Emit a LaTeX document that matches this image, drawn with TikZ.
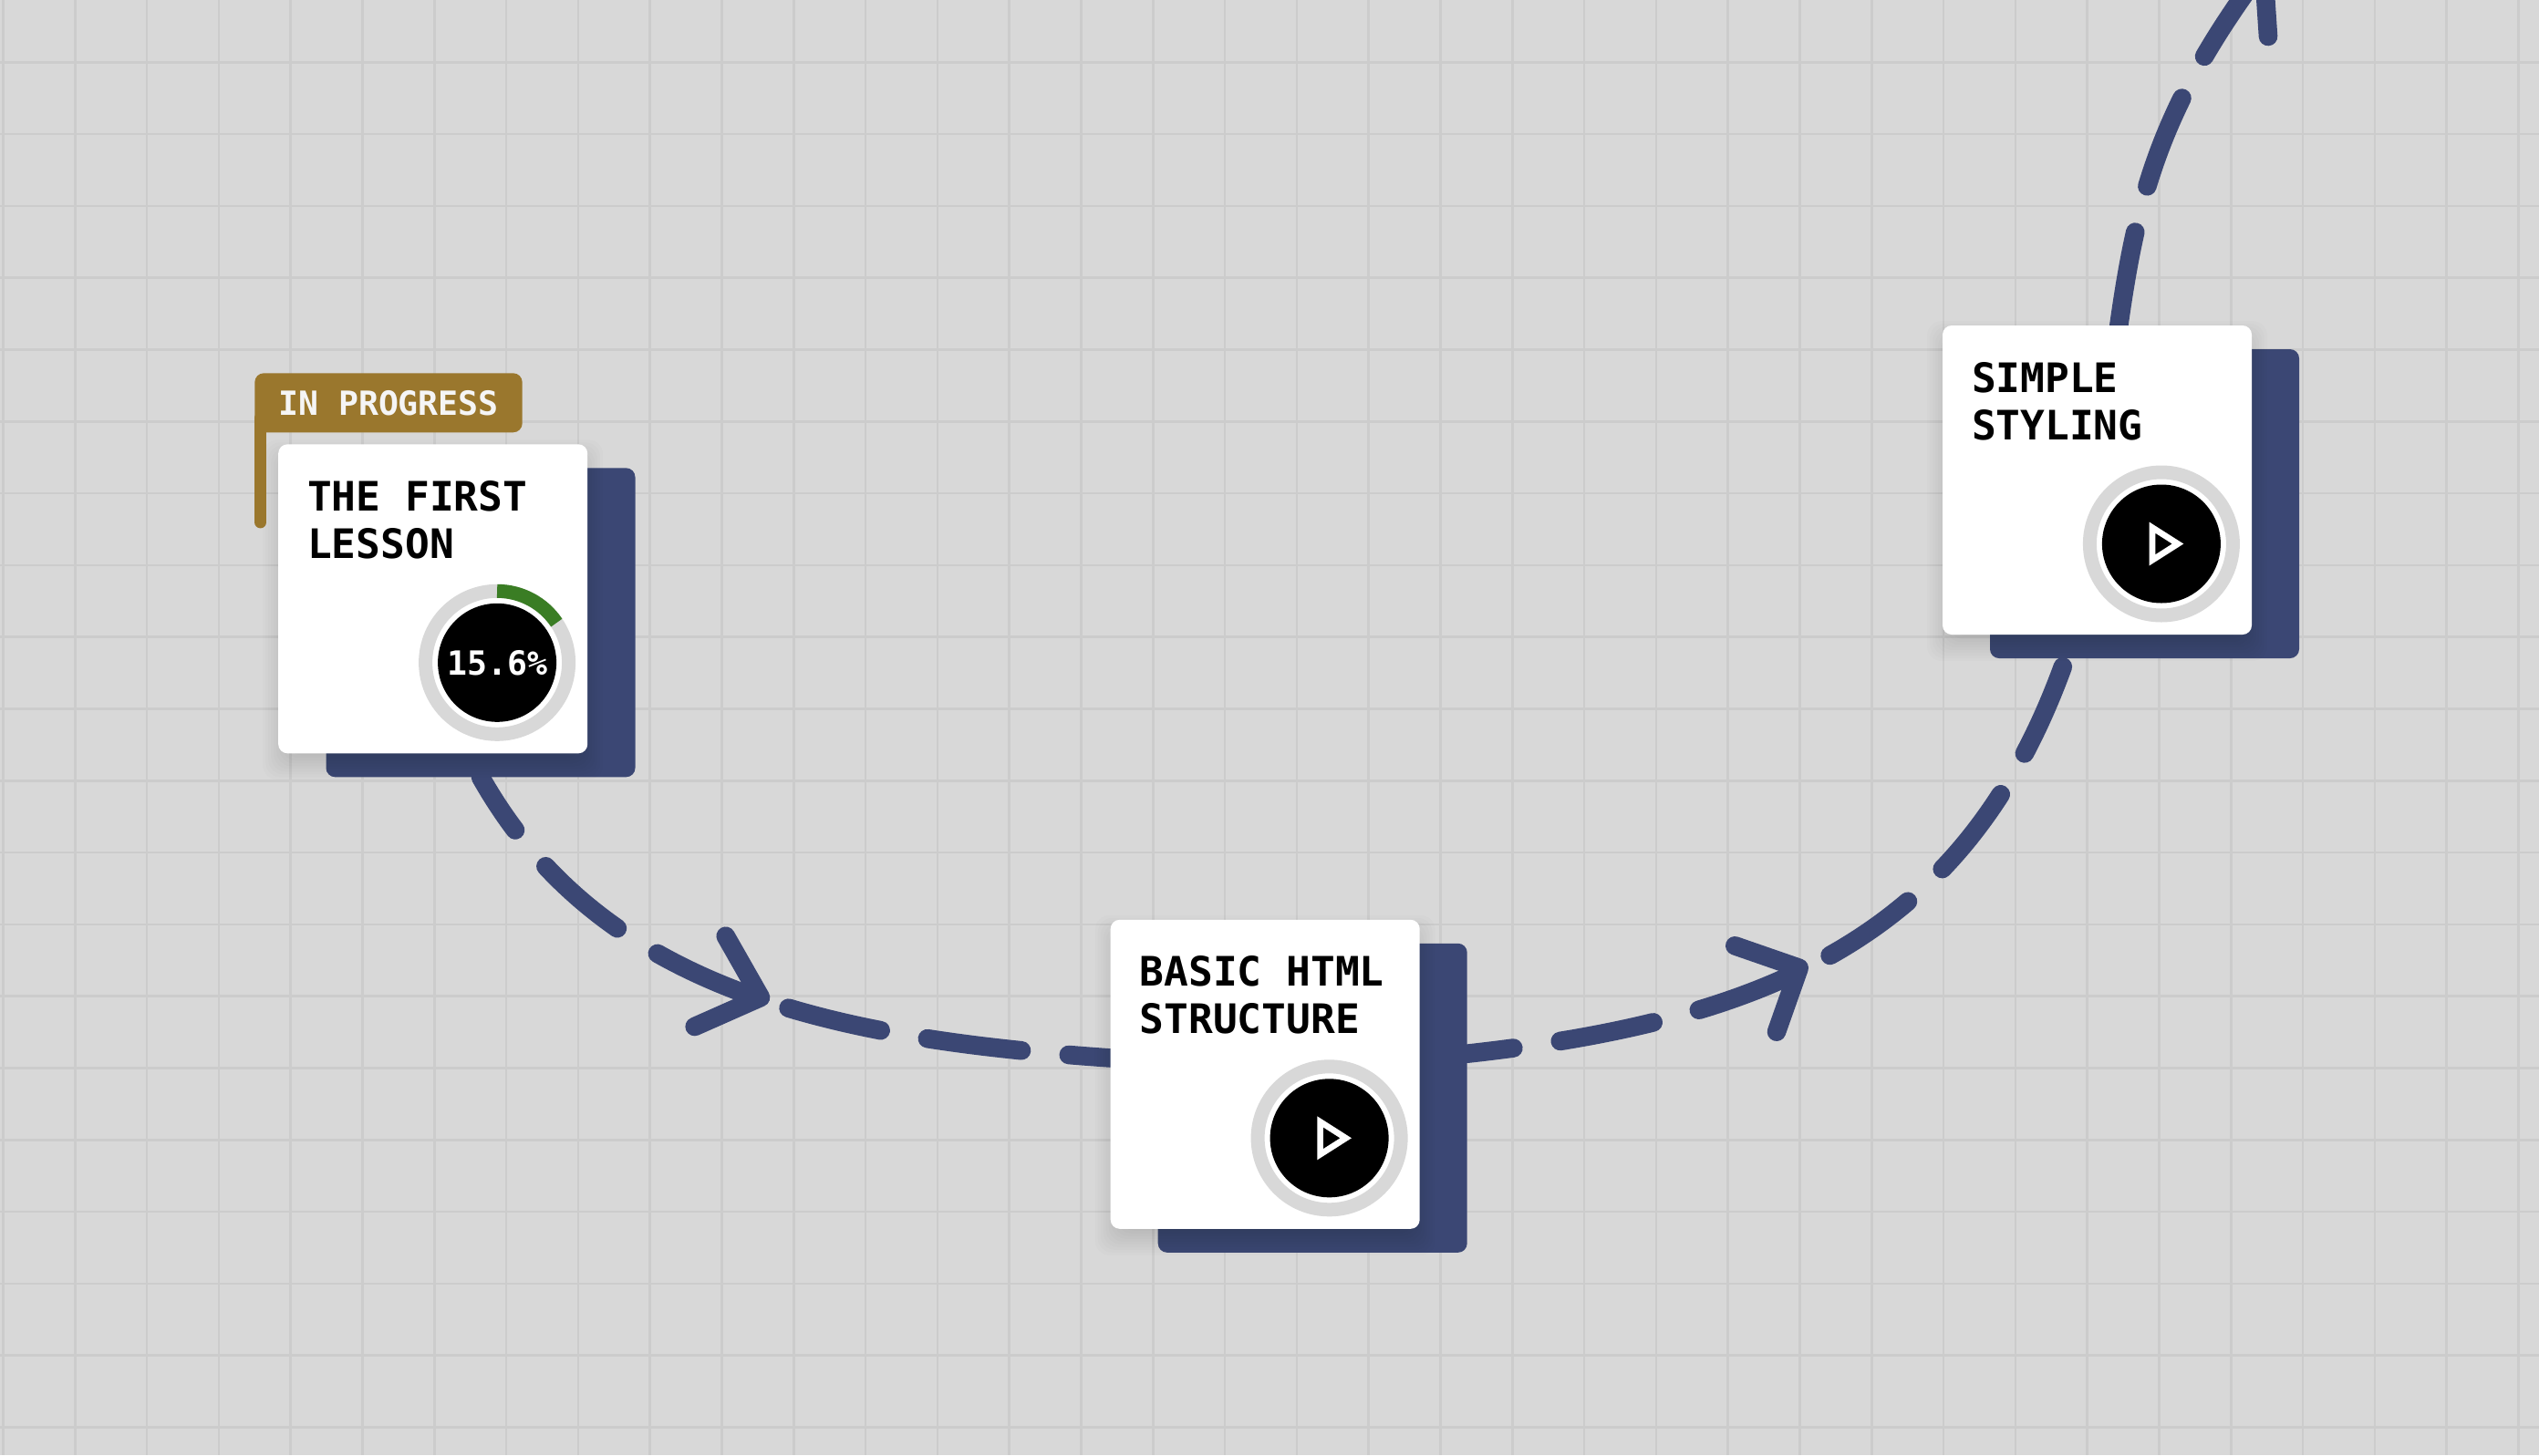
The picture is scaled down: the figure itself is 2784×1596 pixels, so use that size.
\documentclass[tikz,border=0pt]{standalone}
\usepackage{fontspec}
\usepackage{tikz}
\usetikzlibrary{positioning}
\setmonofont{DejaVu Sans Mono}

\definecolor{papergrey}{HTML}{D8D8D8}
\definecolor{gridgrey}{HTML}{CCCCCC}
\definecolor{trailblue}{HTML}{3B4774}
\definecolor{badgegold}{HTML}{9A772D}
\definecolor{ringgreen}{HTML}{3A7D24}

\pgfdeclarelayer{paper}
\pgfdeclarelayer{backing}
\pgfdeclarelayer{cardshade}
\pgfsetlayers{paper,backing,cardshade,main}

\begin{document}
\begin{tikzpicture}[x=0.5pt,y=-0.5pt,semithick]

  \tikzstyle{gridline}=[gridgrey,line width=1.25pt]
  \tikzstyle{cardback}=[rectangle,fill=trailblue,rounded corners=5pt,inner sep=0pt,outer sep=0pt,minimum size=169.5pt]
  \tikzstyle{lessoncard}=[cardback,fill=white]
  \tikzstyle{shadelayer}=[black,opacity=0.012,rounded corners=8pt]
  \tikzstyle{cardtitle}=[inner sep=0pt,align=left,font=\ttfamily\bfseries\fontsize{22.25pt}{25.8pt}\selectfont]
  \tikzstyle{ring}=[circle,draw=papergrey,fill=white,line width=7.5pt,inner sep=0pt,outer sep=0pt,minimum size=78.5pt]
  \tikzstyle{ringdone}=[ringgreen,line width=7.5pt]
  \tikzstyle{dial}=[circle,fill=black,text=white,inner sep=0pt,minimum size=65pt,font=\ttfamily\bfseries\fontsize{18.25pt}{18.25pt}\selectfont]
  \tikzstyle{playmark}=[white,line width=3.35pt,miter limit=10]
  \tikzstyle{badge}=[rectangle,fill=badgegold,text=white!96!black,rounded corners=5pt,inner sep=0pt,minimum width=146.7pt,minimum height=32.5pt,font=\ttfamily\bfseries\fontsize{18.25pt}{18.25pt}\selectfont]
  \tikzstyle{badgepole}=[badgegold,line width=6.7pt,line cap=round]
  \tikzstyle{trail}=[trailblue,line width=10.3pt,line cap=round,dash pattern=on 52pt off 26pt]
  \tikzstyle{trailhead}=[trailblue,line width=10.3pt,line cap=round,line join=round]

  \useasboundingbox (0,0) rectangle (2784,1596);

  \begin{pgfonlayer}{paper}
    \fill[papergrey] (0,0) rectangle (2784,1596);
    \foreach \i in {0,...,35}
      \draw[gridline] ({3.5+78.8*\i},0) -- ({3.5+78.8*\i},1596);
    \foreach \j in {0,...,19}
      \draw[gridline] (0,{68.3+78.8*\j}) -- (2784,{68.3+78.8*\j});
  \end{pgfonlayer}

  \begin{pgfonlayer}{backing}
    \node[cardback] (backA) at (527,682.8)    {};
    \node[cardback] (backB) at (1439.2,1204.3) {};
    \node[cardback] (backC) at (2351.5,552.5) {};
  \end{pgfonlayer}

  \node[lessoncard] (cardA) at (474.7,656.8)  {};
  \node[lessoncard] (cardB) at (1387.2,1178.3) {};
  \node[lessoncard] (cardC) at (2299.5,526.5) {};

  \begin{pgfonlayer}{cardshade}
    \foreach \card in {cardA,cardB,cardC}
      \foreach \spread in {-10,-7,...,17}
        \fill[shadelayer] ([shift={(-\spread,\spread+12)}]\card.south west)
          rectangle ([shift={(\spread,-\spread+12)}]\card.north east);
  \end{pgfonlayer}

  \node[cardtitle,below right=20pt and 15.8pt of cardA.north west] (titleA) {THE FIRST \\ LESSON};
  \node[cardtitle,below right=19.6pt and 15.8pt of cardB.north west] (titleB) {BASIC HTML \\ STRUCTURE};
  \node[cardtitle,below right=20pt and 15.8pt of cardC.north west] (titleC) {SIMPLE \\ STYLING};

  \node[ring] (ringA) at (cardA.center) [xshift=35.2pt,yshift=-35pt] {};
  \node[ring] (ringB) at (cardB.center) [xshift=35.2pt,yshift=-35pt] {};
  \node[ring] (ringC) at (cardC.center) [xshift=35.2pt,yshift=-35pt] {};
  \draw[ringdone] (ringA.north) arc[start angle=90,end angle=33.84,radius=39.25pt];

  \node[dial] (dialA) at (ringA) {15.6\%};
  \node[dial] (dialB) at (ringB) {};
  \node[dial] (dialC) at (ringC) {};

  \foreach \dial in {dialB,dialC}
    \draw[playmark] ([shift={(-10,-17.9)}]\dial.center) -- ++(28.1,17.9) -- ++(-28.1,17.9) -- cycle;

  \node[badge] (badge) at (426,441.8) {IN PROGRESS};
  \draw[badgepole] ([xshift=3.35pt,yshift=8pt]badge.south west) -- ([xshift=3.35pt,yshift=-49pt]badge.south west);

  \coordinate (tipA)  at (834,1094);
  \coordinate (armA1) at (795.7,1026.7);
  \coordinate (armA2) at (761.7,1126);
  \coordinate (tipB)  at (1972.7,1061.7);
  \coordinate (armB1) at (1902.3,1037.3);
  \coordinate (armB2) at (1948,1131.7);
  \coordinate (tipC)  at (2482,-35);
  \coordinate (armC1) at (2487,40);
  \coordinate (armC2) at (2407,-32);

  \begin{pgfonlayer}{paper}
    \begin{scope}
      \clip (0,0) rectangle (2784,1596);
      \path
      (backA.south) edge [trail,dash phase=17.25pt,out=299.4,in=176,out looseness=0.92,in looseness=1.01] (cardB.174.2)
      (backB.16.2)  edge [trail,dash phase=26.5pt,out=6.3,in=250.6,out looseness=1.105,in looseness=1.04] (backC.243)
      (cardC.82.6)  edge [trail,out=82,in=233.1,out looseness=0.843,in looseness=1.15] (tipC)
      ;
      \draw[trailhead] (armA1) -- (tipA) -- (armA2);
      \draw[trailhead] (armB1) -- (tipB) -- (armB2);
      \draw[trailhead] (armC1) -- (tipC) -- (armC2);
    \end{scope}
  \end{pgfonlayer}
\end{tikzpicture}
\end{document}
